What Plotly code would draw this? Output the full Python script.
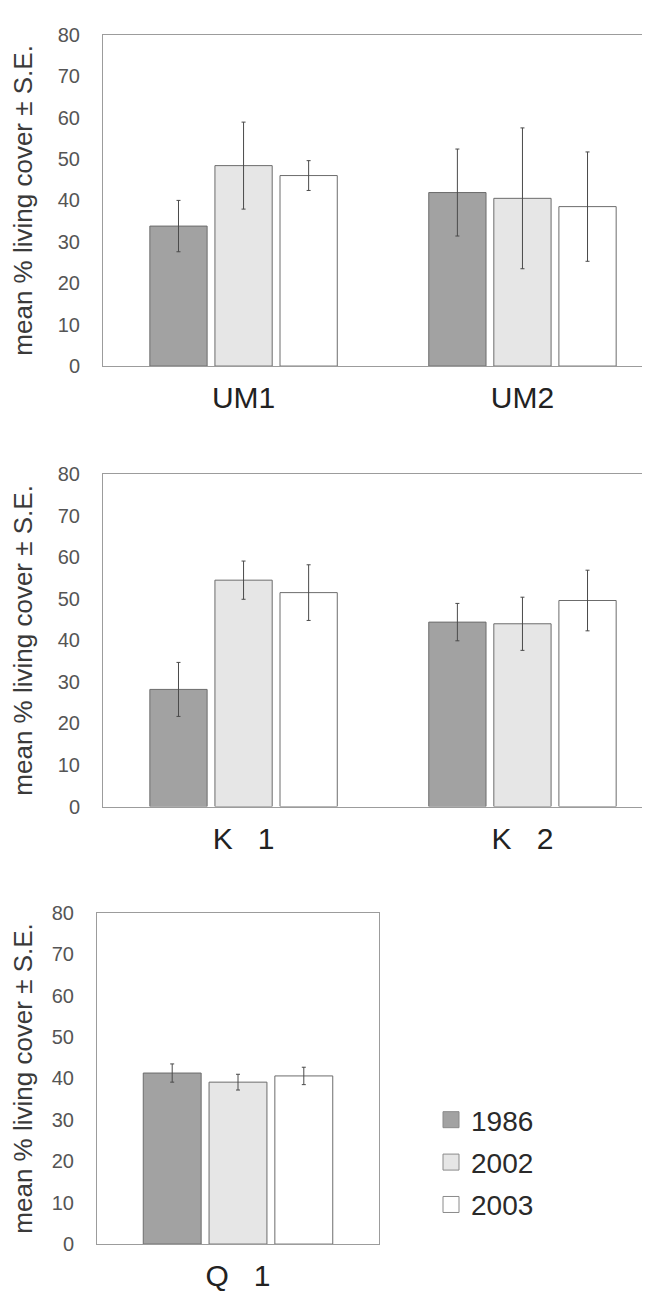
import plotly.graph_objects as go

# ---------------- data ----------------
years = ["1986", "2002", "2003"]

cats_um = ["UM1", "UM2"]
um_1986 = [33.8, 41.9]
um_2002 = [48.4, 40.5]
um_2003 = [46.0, 38.5]
um_se_1986 = [6.2, 10.5]
um_se_2002 = [10.5, 17.0]
um_se_2003 = [3.6, 13.2]

cats_k = ["K\u00a0\u00a0\u00a01", "K\u00a0\u00a0\u00a02"]
k_1986 = [28.2, 44.4]
k_2002 = [54.5, 44.0]
k_2003 = [51.5, 49.6]
k_se_1986 = [6.5, 4.5]
k_se_2002 = [4.6, 6.4]
k_se_2003 = [6.7, 7.3]

cats_q = ["Q\u00a0\u00a0\u00a01"]
q_1986 = [41.3]
q_2002 = [39.1]
q_2003 = [40.6]
q_se_1986 = [2.2]
q_se_2002 = [1.9]
q_se_2003 = [2.1]

y_ticks = [0, 10, 20, 30, 40, 50, 60, 70, 80]
y_title = "mean % living cover ± S.E."

# ---------------- style ----------------
fills = {"1986": "#a2a2a2", "2002": "#e6e6e6", "2003": "#ffffff"}
outline = "#6c6c6c"
axis_col = "#9c9c9c"
FONT = "Liberation Sans, Arial, sans-serif"

W, H = 650, 1311

fig = go.Figure()

panels = [
    ("x", "y", cats_um, [um_1986, um_2002, um_2003], [um_se_1986, um_se_2002, um_se_2003]),
    ("x2", "y2", cats_k, [k_1986, k_2002, k_2003], [k_se_1986, k_se_2002, k_se_2003]),
    ("x3", "y3", cats_q, [q_1986, q_2002, q_2003], [q_se_1986, q_se_2002, q_se_2003]),
]

for xa, ya, cats, vals, ses in panels:
    for yr, v, se in zip(years, vals, ses):
        fig.add_trace(go.Bar(
            x=cats, y=v, name=yr, xaxis=xa, yaxis=ya,
            marker=dict(color=fills[yr], line=dict(color=outline, width=1)),
            error_y=dict(type="data", array=se, visible=True,
                         color="#4a4a4a", thickness=1, width=2),
            showlegend=False, legendgroup=yr,
        ))

# legend-only entries (larger square symbols, like the original key)
for yr in years:
    fig.add_trace(go.Scatter(
        x=[None], y=[None], mode="markers", name=yr, xaxis="x3", yaxis="y3",
        marker=dict(symbol="square", size=16, color=fills[yr],
                    line=dict(color="#8a8a8a", width=1)),
        showlegend=True, legendgroup=yr,
    ))

def yaxis_cfg(domain, anchor, mirror, title_standoff):
    return dict(
        domain=domain, anchor=anchor, range=[0, 80], tickvals=y_ticks,
        showgrid=False, zeroline=False, showline=True, linecolor=axis_col,
        linewidth=1, mirror=mirror, ticks="", ticklabelstandoff=18,
        tickfont=dict(family=FONT, size=20, color="#555555"),
        title=dict(text=y_title, font=dict(family=FONT, size=26, color="#3a3a3a"),
                   standoff=title_standoff),
        fixedrange=True,
    )

def xaxis_cfg(domain, anchor, rng):
    return dict(
        domain=domain, anchor=anchor, range=rng, showgrid=False, zeroline=False,
        showline=True, linecolor=axis_col, linewidth=1, mirror=True, ticks="",
        tickfont=dict(family=FONT, size=30, color="#222222"),
        ticklabelstandoff=5, fixedrange=True,
    )

fig.update_layout(
    width=W, height=H,
    margin=dict(l=0, r=0, t=0, b=0),
    paper_bgcolor="white", plot_bgcolor="white",
    barmode="group", bargap=0.30, bargroupgap=0.12,
    showlegend=True,
    legend=dict(x=423 / W, y=1 - 1163 / H, xanchor="left", yanchor="middle",
                font=dict(family=FONT, size=28, color="#2a2a2a"),
                traceorder="grouped", tracegroupgap=3, itemsizing="trace",
                bgcolor="rgba(0,0,0,0)"),
    xaxis=xaxis_cfg([95 / W, 1.0], "y", [-0.504, 1.486]),
    yaxis=yaxis_cfg([1 - 353 / H, 1 - 16 / H], "x", False, 20),
    xaxis2=xaxis_cfg([95 / W, 1.0], "y2", [-0.504, 1.486]),
    yaxis2=yaxis_cfg([1 - 801 / H, 1 - 463 / H], "x2", False, 20),
    xaxis3=xaxis_cfg([89 / W, 371 / W], "y3", [-0.5, 0.5]),
    yaxis3=yaxis_cfg([1 - 1246 / H, 1 - 909 / H], "x3", True, 14),
)

fig.write_html("out.html")
